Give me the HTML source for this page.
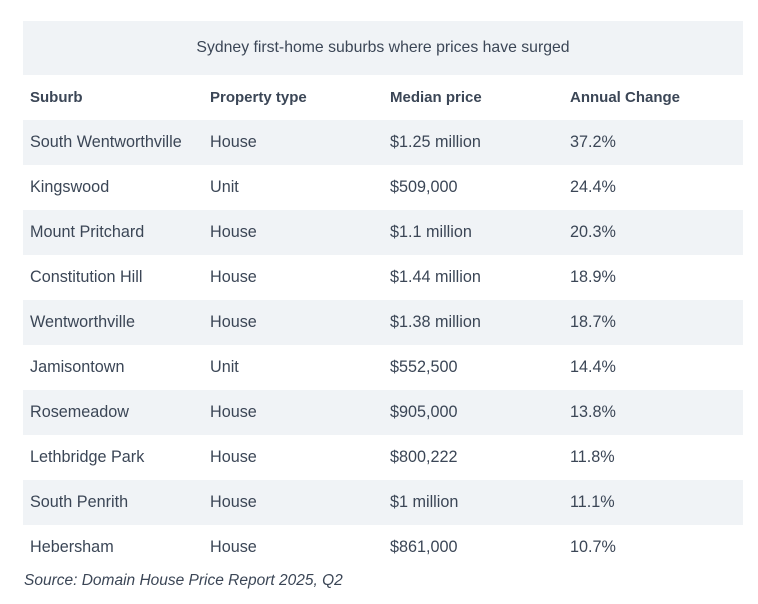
<!DOCTYPE html>
<html><head><meta charset="utf-8"><style>
body{margin:0;width:758px;height:604px;background:#fff;font-family:"Liberation Sans",sans-serif;color:#3b4656;position:relative;overflow:hidden}
.r{position:absolute;left:23px;width:720px;height:45px}
.s{background:#f0f3f6}
.c{position:absolute;top:0;line-height:45px;font-size:16.2px;white-space:nowrap}
.h .c{font-weight:bold;font-size:15px}
</style></head><body>
<div class="r s" style="top:21px;height:54px"><div class="c" style="left:0;width:720px;text-align:center;line-height:54px;font-size:15.8px">Sydney first-home suburbs where prices have surged</div></div>
<div class="r h" style="top:75px"><div class="c" style="left:7px">Suburb</div><div class="c" style="left:187px">Property type</div><div class="c" style="left:367px">Median price</div><div class="c" style="left:547px">Annual Change</div></div>
<div class="r s" style="top:120px"><div class="c" style="left:7px">South Wentworthville</div><div class="c" style="left:187px">House</div><div class="c" style="left:367px">$1.25 million</div><div class="c" style="left:547px">37.2%</div></div>
<div class="r" style="top:165px"><div class="c" style="left:7px">Kingswood</div><div class="c" style="left:187px">Unit</div><div class="c" style="left:367px">$509,000</div><div class="c" style="left:547px">24.4%</div></div>
<div class="r s" style="top:210px"><div class="c" style="left:7px">Mount Pritchard</div><div class="c" style="left:187px">House</div><div class="c" style="left:367px">$1.1 million</div><div class="c" style="left:547px">20.3%</div></div>
<div class="r" style="top:255px"><div class="c" style="left:7px">Constitution Hill</div><div class="c" style="left:187px">House</div><div class="c" style="left:367px">$1.44 million</div><div class="c" style="left:547px">18.9%</div></div>
<div class="r s" style="top:300px"><div class="c" style="left:7px">Wentworthville</div><div class="c" style="left:187px">House</div><div class="c" style="left:367px">$1.38 million</div><div class="c" style="left:547px">18.7%</div></div>
<div class="r" style="top:345px"><div class="c" style="left:7px">Jamisontown</div><div class="c" style="left:187px">Unit</div><div class="c" style="left:367px">$552,500</div><div class="c" style="left:547px">14.4%</div></div>
<div class="r s" style="top:390px"><div class="c" style="left:7px">Rosemeadow</div><div class="c" style="left:187px">House</div><div class="c" style="left:367px">$905,000</div><div class="c" style="left:547px">13.8%</div></div>
<div class="r" style="top:435px"><div class="c" style="left:7px">Lethbridge Park</div><div class="c" style="left:187px">House</div><div class="c" style="left:367px">$800,222</div><div class="c" style="left:547px">11.8%</div></div>
<div class="r s" style="top:480px"><div class="c" style="left:7px">South Penrith</div><div class="c" style="left:187px">House</div><div class="c" style="left:367px">$1 million</div><div class="c" style="left:547px">11.1%</div></div>
<div class="r" style="top:525px"><div class="c" style="left:7px">Hebersham</div><div class="c" style="left:187px">House</div><div class="c" style="left:367px">$861,000</div><div class="c" style="left:547px">10.7%</div></div>
<div style="position:absolute;left:24px;top:571px;font-size:15.5px;font-style:italic;line-height:20px">Source: Domain House Price Report 2025, Q2</div>
</body></html>
